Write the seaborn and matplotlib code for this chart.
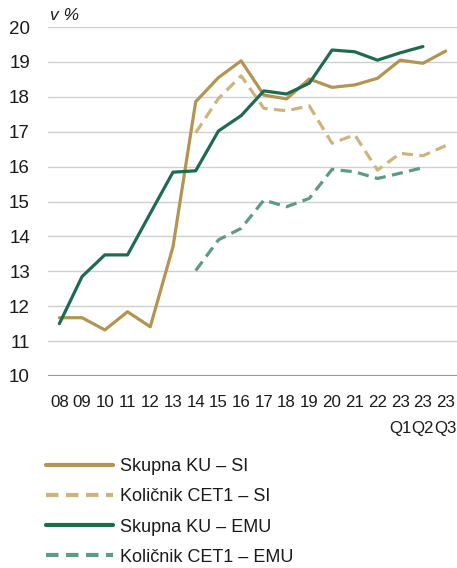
import numpy as np
import pandas as pd
import matplotlib
matplotlib.use("Agg")
import matplotlib.pyplot as plt
import seaborn as sns
from matplotlib.lines import Line2D

categories = ["08", "09", "10", "11", "12", "13", "14", "15", "16", "17", "18", "19",
              "20", "21", "22", "23\nQ1", "23\nQ2", "23\nQ3"]
skupna_si = [11.67, 11.67, 11.32, 11.84, 11.41, 13.70, 17.86, 18.55, 19.03, 18.05, 17.94,
             18.51, 18.27, 18.34, 18.53, 19.05, 18.96, 19.31]
cet1_si = [None, None, None, None, None, None, 16.97, 17.95, 18.60, 17.67, 17.60, 17.74,
           16.67, 16.91, 15.90, 16.38, 16.31, 16.60]
skupna_emu = [11.50, 12.85, 13.47, 13.47, 14.66, 15.84, 15.88, 17.02, 17.46, 18.17, 18.08,
              18.39, 19.34, 19.29, 19.05, 19.26, 19.44, None]
cet1_emu = [None, None, None, None, None, None, 13.02, 13.90, 14.23, 15.04, 14.85, 15.09,
            15.92, 15.85, 15.66, 15.81, 15.97, None]
series_names = ["Skupna KU – SI", "Količnik CET1 – SI", "Skupna KU – EMU", "Količnik CET1 – EMU"]
colors = ["#B39450", "#CDB47F", "#1E6B50", "#5F9A84"]
yticks = [10, 11, 12, 13, 14, 15, 16, 17, 18, 19, 20]

sns.set_theme(style="white")
plt.rcParams['font.family'] = ['Liberation Sans', 'DejaVu Sans']

fig = plt.figure(figsize=(4.57, 5.68), dpi=100)
ax = fig.add_axes([48 / 457, 1 - 376 / 568, (457 - 48) / 457, (376 - 27) / 568])

x = np.arange(len(categories))
df = pd.DataFrame({"x": x, series_names[0]: skupna_si, series_names[1]: cet1_si,
                   series_names[2]: skupna_emu, series_names[3]: cet1_emu})
long = df.melt(id_vars="x", var_name="series", value_name="value").dropna()

dash_styles = {series_names[0]: "", series_names[1]: (3.5, 2.0),
               series_names[2]: "", series_names[3]: (3.5, 2.0)}
sns.lineplot(data=long, x="x", y="value", hue="series", style="series",
             hue_order=series_names, style_order=series_names,
             palette=dict(zip(series_names, colors)), dashes=dash_styles,
             linewidth=2.3, ax=ax, legend=False)

for yv in yticks:
    ax.axhline(yv, color="#D0D0D0" if yv != 10 else "#9A9A9A",
               linewidth=1.0 if yv != 10 else 1.6, zorder=0)

ax.set_xlim(-0.5, 17.5)
ax.set_ylim(10, 20)
ax.set_yticks(yticks)
ax.set_yticklabels([str(v) for v in yticks])
ax.set_xticks(x)
ax.set_xticklabels(categories, linespacing=1.85)
ax.tick_params(axis="y", length=0, pad=13, labelsize=13.5, labelcolor="#1a1a1a")
ax.tick_params(axis="x", length=0, pad=14, labelsize=12.2, labelcolor="#1a1a1a")
ax.set_xlabel("")
ax.set_ylabel("")
for s in ax.spines.values():
    s.set_visible(False)

ax.text(0.005, 1.012, "v %", transform=ax.transAxes, fontsize=12.5, style="italic",
        ha="left", va="bottom", color="#1a1a1a")

handles = [
    Line2D([], [], color=colors[0], linewidth=3.0),
    Line2D([], [], color=colors[1], linewidth=3.0, dashes=(3.0, 1.8)),
    Line2D([], [], color=colors[2], linewidth=3.0),
    Line2D([], [], color=colors[3], linewidth=3.0, dashes=(3.0, 1.8)),
]
fig.legend(handles, series_names, loc="upper left", bbox_to_anchor=(0.085, 1 - 451 / 568),
           frameon=False, fontsize=13, handlelength=3.7, handletextpad=0.4,
           labelspacing=0.73, borderaxespad=0, labelcolor="#1a1a1a")

fig.savefig("out.png", dpi=100)
